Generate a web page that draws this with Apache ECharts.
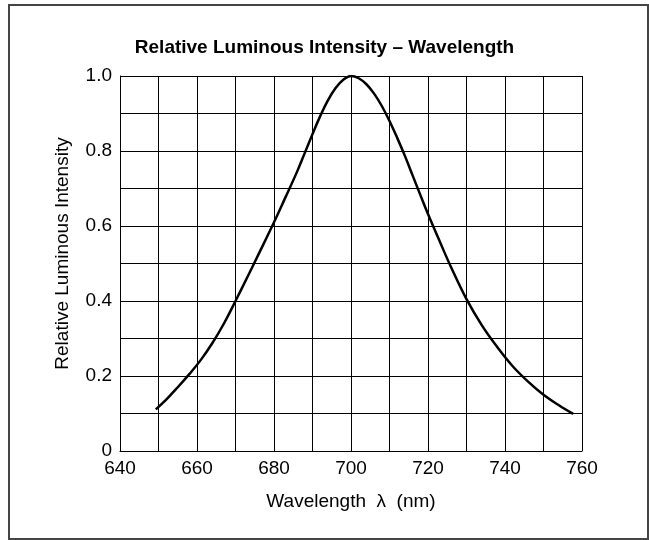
<!DOCTYPE html>
<html>
<head>
<meta charset="utf-8">
<script src="https://cdn.jsdelivr.net/npm/echarts@6/dist/echarts.min.js"></script>
<style>
html,body{margin:0;padding:0;background:#fff;}
#chart{width:649px;height:540px;}
</style>
</head>
<body>
<div id="chart"></div>
<script>
const titleText = 'Relative Luminous Intensity – Wavelength';
const xAxisName = 'Wavelength  λ  (nm)';
const yAxisName = 'Relative Luminous Intensity';
const wavelengths = [649.3, 652, 655, 658, 661, 664, 667, 670, 673, 676, 680, 683, 686, 688, 690, 692, 694, 696, 698, 700,
                     702, 704, 706, 708, 710, 712, 714, 716, 718, 720, 723, 726, 730, 734, 738, 742, 746, 750, 754, 757.7];
const intensity   = [0.111, 0.137, 0.17, 0.205, 0.243, 0.288, 0.34, 0.40, 0.462, 0.525, 0.61, 0.677, 0.745, 0.795, 0.845, 0.893, 0.935, 0.968, 0.99, 1.0,
                     0.994, 0.978, 0.953, 0.92, 0.88, 0.835, 0.787, 0.735, 0.683, 0.632, 0.56, 0.49, 0.405, 0.335, 0.277, 0.226, 0.185, 0.15, 0.122, 0.099];
const xMin = 640, xMax = 760, xStep = 10, xLabelStep = 20;
const yMin = 0, yMax = 1.0, yStep = 0.1;

const FONT = '"Liberation Sans", Arial, Helvetica, sans-serif';
const chart = echarts.init(document.getElementById('chart'), null, {renderer: 'canvas'});
const seriesData = wavelengths.map((w, i) => [w, intensity[i]]);

chart.setOption({
  animation: false,
  backgroundColor: '#fff',
  title: {
    text: titleText,
    left: 'center',
    top: 33,
    textStyle: {fontFamily: FONT, fontWeight: 'bold', fontSize: 19, color: '#000'}
  },
  graphic: [{
    type: 'rect',
    shape: {x: 9, y: 5, width: 639, height: 534},
    style: {fill: 'none', stroke: '#444', lineWidth: 2},
    silent: true
  }],
  grid: {left: 120, top: 76, right: 67, bottom: 89, containLabel: false},
  xAxis: {
    type: 'value',
    min: xMin, max: xMax, interval: xStep,
    name: xAxisName,
    nameLocation: 'middle',
    nameGap: 41,
    nameTextStyle: {fontFamily: FONT, fontSize: 19, color: '#000'},
    axisLine: {show: true, lineStyle: {color: '#000', width: 1}},
    axisTick: {show: false},
    axisLabel: {
      fontFamily: FONT, fontSize: 19, color: '#000', margin: 8,
      formatter: v => (Math.round(v) % xLabelStep === 0 ? String(Math.round(v)) : '')
    },
    splitLine: {show: true, lineStyle: {color: '#000', width: 1}}
  },
  yAxis: {
    type: 'value',
    min: yMin, max: yMax, interval: yStep,
    name: yAxisName,
    nameLocation: 'middle',
    nameGap: 48,
    nameTextStyle: {fontFamily: FONT, fontSize: 19, color: '#000', padding: [0, 0, 0, 20]},
    axisLine: {show: true, lineStyle: {color: '#000', width: 1}},
    axisTick: {show: false},
    axisLabel: {
      fontFamily: FONT, fontSize: 19, color: '#000', margin: 8,
      formatter: v => {
        const k = Math.round(v * 10);
        if (k % 2 !== 0) return '';
        return k === 0 ? '0' : (k / 10).toFixed(1);
      }
    },
    splitLine: {show: true, lineStyle: {color: '#000', width: 1}}
  },
  series: [{
    type: 'line',
    data: seriesData,
    smooth: 0.4,
    showSymbol: false,
    lineStyle: {color: '#000', width: 2.5},
    silent: true
  }]
});
</script>
</body>
</html>
